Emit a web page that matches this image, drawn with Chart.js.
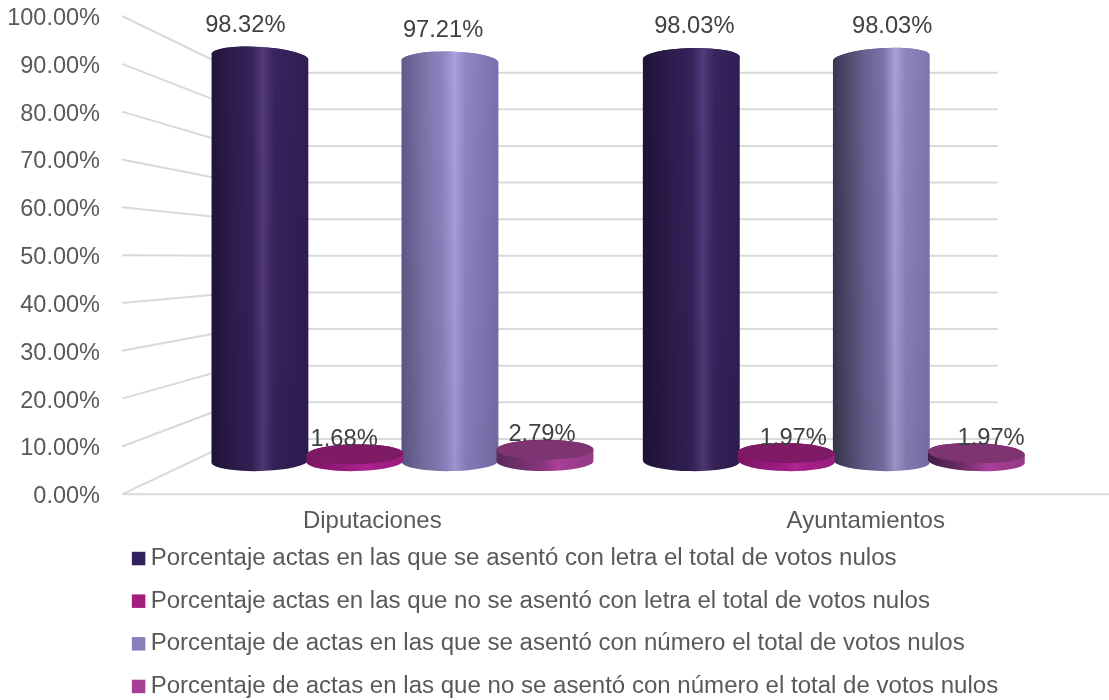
<!DOCTYPE html>
<html lang="es">
<head>
<meta charset="utf-8">
<title>Porcentaje de actas</title>
<script src="https://cdn.jsdelivr.net/npm/chart.js@4"></script>
<style>
  html, body { margin: 0; padding: 0; background: #fff; overflow: hidden; }
  #wrap { width: 1109px; height: 700px; position: relative; }
</style>
</head>
<body>
<div id="wrap"><canvas id="chart"></canvas></div>
<script>
// ========== datos ==========
const categories = ['Diputaciones', 'Ayuntamientos']
const letraSi = [98.32, 98.03]
const letraNo = [1.68, 1.97]
const numeroSi = [97.21, 98.03]
const numeroNo = [2.79, 1.97]
const seriesNames = [
  'Porcentaje actas en las que se asentó con letra el total de votos nulos',
  'Porcentaje actas en las que no se asentó con letra el total de votos nulos',
  'Porcentaje de actas en las que se asentó con número el total de votos nulos',
  'Porcentaje de actas en las que no se asentó con número el total de votos nulos'
]
const legendColors = ['#33215e', '#a31f7e', '#8a7fbb', '#a64096']

// ========== estilo ==========
const GRID = '#d9d9d9'
const FONT = '"Liberation Sans", Arial, sans-serif'
const WALL = { left: 117, right: 111, top: 56.7, bottom: 55.3 }
const BAR_DEPTH_X = 0.545
const BAR_DEPTH_Y = 0.6
const BAR_SHIFT_X = 1
const LABEL_DEPTH_X = 0.39
const LABEL_DEPTH_Y = 0.45
const LABEL_SHIFT_X = 1.5
const RY = 10

// degradados horizontales por serie y categoria
const shades = [
  [
    ['#221338', '#2f1d50', '#35225a', '#543a7c', '#38245e', '#2f1d54'],
    ['#1e1236', '#2f1d50', '#35225a', '#543a7c', '#38245e', '#301e56']
  ],
  [
    ['#7a1560', '#94197a', '#a01e84', '#b02490', '#a31f86', '#9a1e80'],
    ['#7a1560', '#94197a', '#a01e84', '#b02490', '#a31f86', '#9a1e80']
  ],
  [
    ['#5f5a8a', '#7e76aa', '#8f85c4', '#a9a0e0', '#8f84c4', '#7a6fae'],
    ['#3a364f', '#6a6292', '#7d70aa', '#a8a0d8', '#8d82bc', '#7f74ae']
  ],
  [
    ['#5b2a5c', '#7a3272', '#8d3781', '#ac3f9b', '#a03c90', '#953a88'],
    ['#3f1f45', '#6a2a62', '#8d3781', '#ac3f9b', '#a03c90', '#953a88']
  ]
]
const capColors = [null, '#7f1a66', null, '#7f3472']
const highlights = [[0.53, 0.62], [0.6, 0.6], [0.55, 0.64], [0.63, 0.63]]

function projX(area, x, d) {
  const k = 1 - d * ((WALL.left + WALL.right) / (area.right - area.left))
  return area.left + d * WALL.left + (x - area.left) * k
}

function projY(area, y, d) {
  const t = (y - area.top) / (area.bottom - area.top)
  const top = area.top + d * WALL.top
  const bottom = area.bottom - d * WALL.bottom
  return top + t * (bottom - top)
}

function tilt(cx, y) {
  const deg = ((570 - cx) / 310) * (3.5 - (5 * (y - 55)) / 405)
  return (deg * Math.PI) / 180
}

function drawWalls(chart) {
  const { ctx, chartArea: a, scales } = chart
  ctx.save()
  ctx.strokeStyle = GRID
  ctx.lineWidth = 2
  scales.y.ticks.forEach(t => {
    const y = scales.y.getPixelForValue(t.value)
    const by = projY(a, y, 1)
    ctx.beginPath()
    ctx.moveTo(a.left, y)
    ctx.lineTo(a.left + WALL.left, by)
    ctx.lineTo(a.right - WALL.right, by)
    ctx.stroke()
  })
  ctx.beginPath()
  ctx.moveTo(a.left, a.bottom)
  ctx.lineTo(a.right, a.bottom)
  ctx.stroke()
  ctx.restore()
}

function drawCylinder(chart, el, ds, cat) {
  const { ctx, chartArea: a } = chart
  const cx = projX(a, el.x, BAR_DEPTH_X) + BAR_SHIFT_X
  const k = projX(a, el.x + 1, BAR_DEPTH_X) - projX(a, el.x, BAR_DEPTH_X)
  const rx = (el.width * k) / 2
  const topY = projY(a, el.y, BAR_DEPTH_Y)
  const baseY = projY(a, el.base, BAR_DEPTH_Y)

  const h = highlights[ds][cat]
  const stops = [0, h - 0.3, h - 0.12, h, h + 0.12, 1]
  const grad = ctx.createLinearGradient(cx - rx, 0, cx + rx, 0)
  shades[ds][cat].forEach((c, i) => grad.addColorStop(stops[i], c))

  ctx.save()
  ctx.beginPath()
  ctx.ellipse(cx, baseY, rx, RY, tilt(cx, baseY), 0, Math.PI)
  ctx.ellipse(cx, topY, rx, RY, tilt(cx, topY), Math.PI, Math.PI * 2)
  ctx.closePath()
  ctx.fillStyle = grad
  ctx.fill()

  // la luz baja hacia la base
  if (baseY - topY > 50) {
    const shade = ctx.createLinearGradient(0, topY, 0, baseY)
    shade.addColorStop(0, 'rgba(0,0,0,0)')
    shade.addColorStop(1, 'rgba(0,0,0,0.08)')
    ctx.fillStyle = shade
    ctx.fill()
  }

  ctx.beginPath()
  ctx.ellipse(cx, topY, rx, RY, tilt(cx, topY), 0, Math.PI * 2)
  ctx.fillStyle = capColors[ds] || grad
  ctx.fill()
  ctx.restore()
}

const cylinderPlugin = {
  id: 'cylinders',
  afterLayout(chart) {
    // la leyenda va alineada a la izquierda, debajo del eje
    chart.legend.left = 120
    chart.legend.top = 527.9
  },
  beforeDatasetsDraw(chart) {
    drawWalls(chart)
    ;[0, 2, 1, 3].forEach(ds => {
      chart.getDatasetMeta(ds).data.forEach((el, cat) => drawCylinder(chart, el, ds, cat))
    })
    return false
  },
  afterDraw(chart) {
    const { ctx, chartArea: a } = chart
    ctx.save()
    ctx.font = '23.7px ' + FONT
    ctx.fillStyle = '#404040'
    ctx.textAlign = 'center'
    ctx.textBaseline = 'middle'
    chart.data.datasets.forEach((d, ds) => {
      chart.getDatasetMeta(ds).data.forEach((el, cat) => {
        const x = projX(a, el.x, LABEL_DEPTH_X) + LABEL_SHIFT_X
        const y = projY(a, el.y, LABEL_DEPTH_Y) - 23
        ctx.fillText(d.data[cat].toFixed(2) + '%', x, y)
      })
    })
    ctx.restore()
  }
}

new Chart(document.getElementById('chart'), {
  type: 'bar',
  data: {
    labels: categories,
    datasets: [letraSi, letraNo, numeroSi, numeroNo].map((values, i) => ({
      label: seriesNames[i],
      data: values,
      backgroundColor: legendColors[i],
      borderWidth: 0,
      barPercentage: 1.02,
      categoryPercentage: 0.881
    }))
  },
  options: {
    responsive: true,
    maintainAspectRatio: false,
    animation: false,
    layout: { padding: { top: 16, left: 0, right: 0, bottom: -18.9 } },
    scales: {
      x: {
        grid: { display: false, drawTicks: false },
        border: { display: false },
        afterFit: s => {
          s.height = 44
          s.paddingLeft = 0
          s.paddingRight = 0
        },
        ticks: {
          color: '#595959',
          font: { family: FONT, size: 24 },
          padding: 13,
          labelOffset: 3.5,
          maxRotation: 0
        }
      },
      y: {
        min: 0,
        max: 100,
        grid: { display: false, drawTicks: false },
        border: { display: false },
        afterFit: s => {
          s.width = 122
          s.paddingTop = 0
          s.paddingBottom = 0
        },
        ticks: {
          stepSize: 10,
          color: '#595959',
          font: { family: FONT, size: 23.5 },
          padding: 22,
          labelOffset: 2.5,
          callback: v => v.toFixed(2) + '%'
        }
      }
    },
    plugins: {
      tooltip: { enabled: false },
      legend: {
        position: 'bottom',
        align: 'start',
        labels: {
          color: '#595959',
          font: { family: FONT, size: 24.05 },
          usePointStyle: true,
          pointStyle: 'rect',
          boxWidth: 0.01,
          boxHeight: 13.5,
          padding: 18.6
        }
      }
    }
  },
  plugins: [cylinderPlugin]
})
</script>
</body>
</html>
